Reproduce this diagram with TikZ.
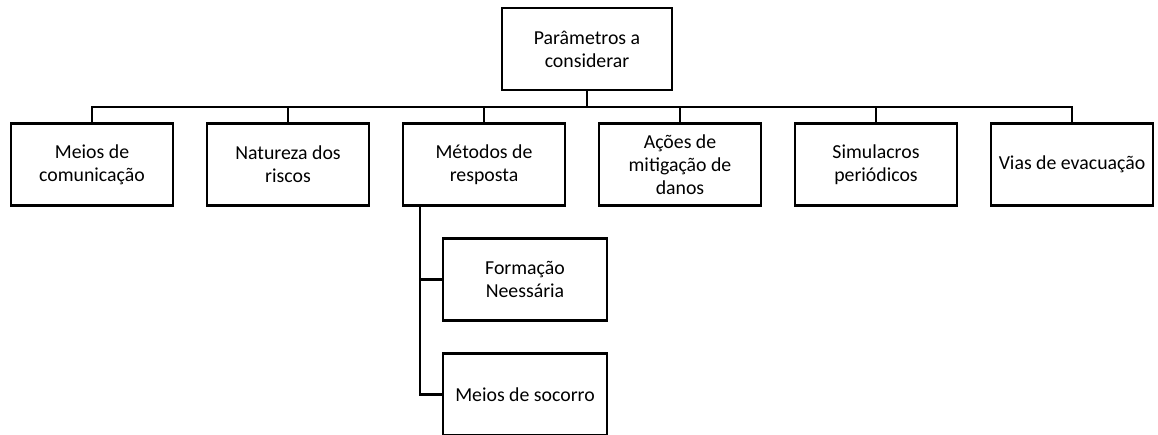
\documentclass[tikz,border=0pt]{standalone}
\usepackage{fontspec}
\setmainfont{Carlito}
\usetikzlibrary{positioning}

\begin{document}
\begin{tikzpicture}[x=1pt,y=1pt,node distance=31.4pt,
   every node/.style={font=\fontsize{19.8}{23}\selectfont},
   param box/.style={draw,line width=2.6pt,minimum width=162pt,minimum height=82pt,
      align=center,inner sep=1pt},
   link/.style={line width=2.6pt}]
\useasboundingbox (0,0) rectangle (1158,434);
% top and first row
\node[param box,minimum width=170pt] (root) at (587,385) {Parâmetros a\\considerar};
\node[param box] (meios) at (92,269.5) {Meios de\\comunicação};
\node[param box,right=of meios] (natureza) {Natureza dos\\riscos};
\node[param box,right=of natureza] (metodos) {Métodos de\\resposta};
\node[param box,right=of metodos] (acoes) {Ações de\\mitigação de\\danos};
\node[param box,right=of acoes] (simulacros) {Simulacros\\periódicos};
\node[param box,right=of simulacros] (vias) {Vias de evacuação};
% under Métodos de resposta
\node[param box,minimum width=164pt] (formacao) at (525,154.5) {Formação\\Neessária};
\node[param box,minimum width=164pt] (socorro) at (525,39.5) {Meios de socorro};
% connectors
\coordinate (bus) at (0,327);
\coordinate (spine) at ([xshift=-64pt]metodos.south);
\draw[link] (root.south) -- (root.south |- bus);
\draw[link] (meios.north) -- (meios.north |- bus) -- (vias.north |- bus) -- (vias.north);
\foreach \n in {natureza,metodos,acoes,simulacros}
   \draw[link] (\n.north) -- (\n.north |- bus);
\draw[link] (spine) |- (socorro.west);
\draw[link] (spine |- formacao.west) -- (formacao.west);
\end{tikzpicture}
\end{document}
